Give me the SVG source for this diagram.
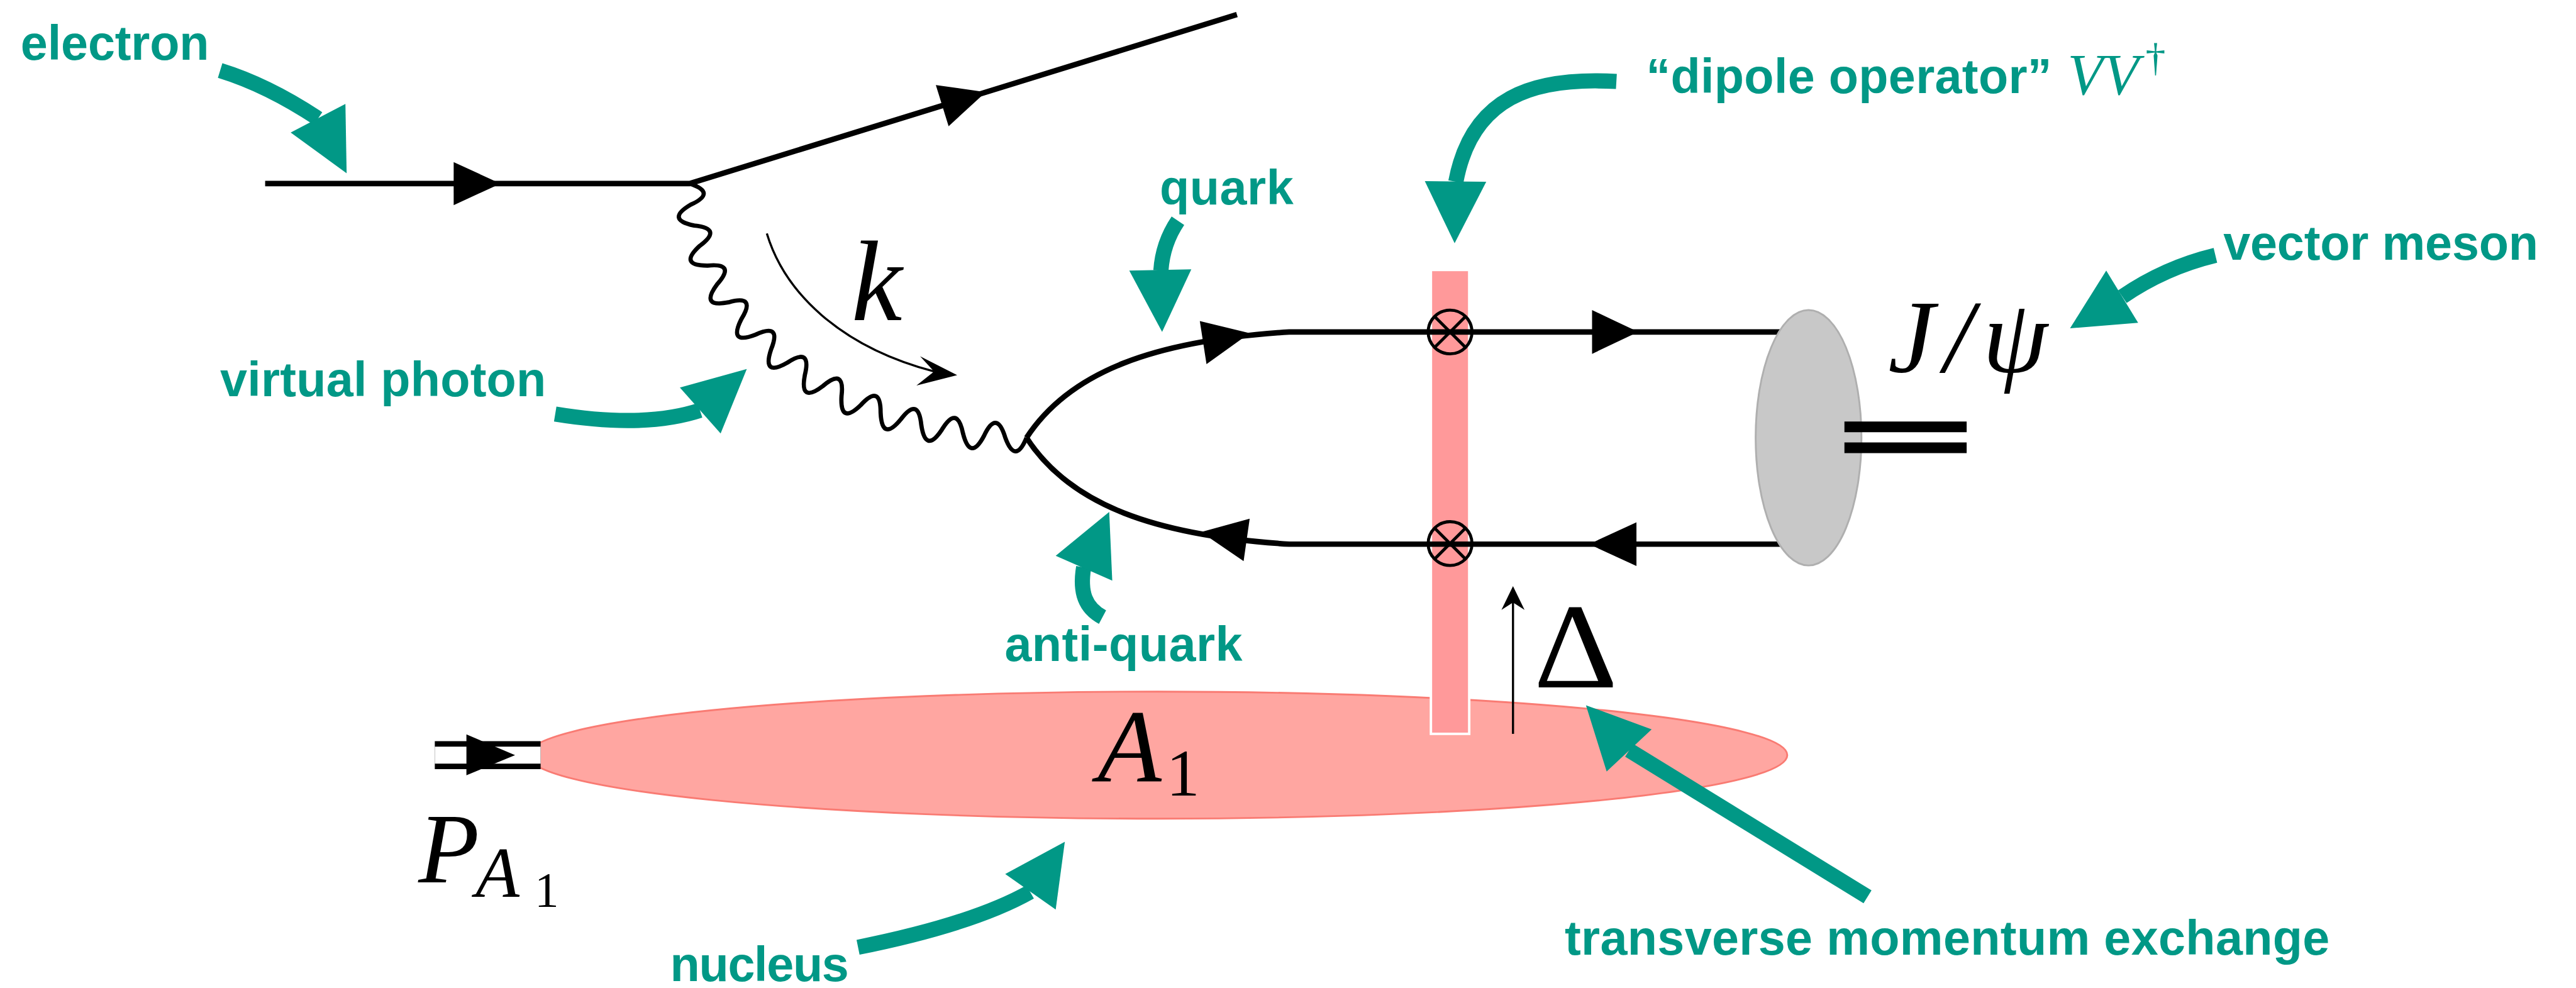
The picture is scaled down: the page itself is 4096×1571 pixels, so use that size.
<svg xmlns="http://www.w3.org/2000/svg" width="4096" height="1571" viewBox="0 0 4096 1571">
<style>
.lbl{font-family:"Liberation Sans",Arial,sans-serif;font-weight:bold;font-size:80px;fill:#019886}
.math{font-family:"Liberation Serif","Times New Roman",serif;font-style:italic;fill:#000}
.up{font-style:normal}
.mt{fill:#019886}
.stem{fill:none;stroke:#019886;stroke-width:25;stroke-linecap:butt}
.head{fill:#019886}
.fer{fill:none;stroke:#000;stroke-width:9}
.arr{fill:#000}
.thin{fill:none;stroke:#000;stroke-width:3.5}
.otimes{fill:none;stroke:#000;stroke-width:5}
</style>
<rect width="4096" height="1571" fill="#fff"/>
<g transform="scale(0.96695 0.96677)">
  <g id="nucleus">
    <ellipse cx="1903.5" cy="1242" rx="1035.5" ry="104.5" fill="#FFA6A1" stroke="#F97B73" stroke-width="3"/>
    <text class="math" x="1805" y="1286" font-size="172">A<tspan class="up" font-size="110" x="1918" y="1309">1</tspan></text>
  </g>
  <g id="beam">
    <line x1="715" y1="1242" x2="889" y2="1242" stroke="#000" stroke-width="46"/>
    <line x1="715" y1="1242" x2="889" y2="1242" stroke="#fff" stroke-width="28"/>
    <polygon class="arr" points="767,1208 767,1275 847,1242"/>
    <text class="math" x="688" y="1451" font-size="164">P<tspan font-size="118" x="782" y="1475">A</tspan><tspan class="up" font-size="80" x="879" y="1491">1</tspan></text>
  </g>
  <g id="dipole">
    <rect x="2353" y="444" width="63" height="763" fill="#FF999A" stroke="#fff" stroke-width="4"/>
  </g>
  <g id="connectors">
    <path class="fer" d="M436,302 L1134,302 L2034,24"/>
    <polygon class="arr" points="746,266.5 746,337.5 823,302"/>
    <polygon class="arr" points="1538.9,139.8 1559.9,207.6 1621,151.6"/>
    <path d="M1134,302 Q1179.4,316.8 1135.9,336.6 Q1093.9,361.2 1141.6,371.0 Q1189.1,375.7 1150.8,404.3 Q1114.9,437.1 1163.6,436.8 Q1211.2,432.0 1179.3,467.6 Q1150.3,506.6 1198.1,497.2 Q1244.2,484.0 1219.2,524.7 Q1197.2,568.0 1242.5,550.4 Q1286.0,530.1 1268.0,574.6 Q1252.7,620.6 1294.8,596.4 Q1334.9,570.1 1323.5,616.8 Q1314.5,664.4 1353.1,635.0 Q1389.6,603.7 1383.8,651.4 Q1380.9,699.8 1415.7,666.0 Q1448.2,630.7 1448.1,678.8 Q1450.3,727.2 1481.2,689.8 Q1510.1,651.3 1515.0,699.1 Q1522.1,747.0 1548.9,706.6 Q1573.8,665.4 1583.5,712.5 Q1595.5,759.5 1618.2,716.7 Q1638.7,673.2 1652.9,719.2 Q1669.3,764.8 1688,720" fill="none" stroke="#000" stroke-width="7" stroke-linejoin="round"/>
    <path class="fer" d="M1688,720 C1760,610 1900,560 2120,546 L2935,546"/>
    <path class="fer" d="M1688,720 C1760,831 1900,881 2120,895 L2935,895"/>
    <polygon class="arr" points="1973,528 1984,599 2055,548"/>
    <polygon class="arr" points="2618,510 2618,582 2694,546"/>
    <polygon class="arr" points="2055,853 2045,923 1975,875"/>
    <polygon class="arr" points="2691,859 2691,931 2613,895"/>
    <path class="thin" d="M1261,384 C1290,480 1380,570 1536,611"/>
    <polygon class="arr" points="1574,617 1513,586 1536,611 1507,634"/>
    <line class="thin" x1="2488" y1="1207" x2="2488" y2="985"/>
    <polygon class="arr" points="2488,964 2507,1003 2488,991 2469,1003"/>
    <text class="math" x="1400" y="527" font-size="188">k</text>
    <text class="math up" x="2522" y="1131" font-size="200" textLength="138" lengthAdjust="spacingAndGlyphs">Δ</text>
  </g>
  <g id="vertex-circles">
    <circle class="otimes" cx="2384.5" cy="546" r="36"/>
    <path class="otimes" d="M2359,520.5 L2410,571.5 M2410,520.5 L2359,571.5"/>
    <circle class="otimes" cx="2384.5" cy="894" r="36"/>
    <path class="otimes" d="M2359,868.5 L2410,919.5 M2410,868.5 L2359,919.5"/>
  </g>
  <g id="meson">
    <ellipse cx="2974" cy="720" rx="87" ry="210" fill="#C8C8C8" stroke="#AFAFAF" stroke-width="3"/>
    <line x1="3033" y1="702" x2="3234" y2="702" stroke="#000" stroke-width="17.5"/>
    <line x1="3033" y1="736.5" x2="3234" y2="736.5" stroke="#000" stroke-width="17.5"/>
    <text class="math" x="3105" y="611" font-size="172" textLength="262">J/ψ</text>
  </g>
  <g id="annotations">
    <text class="lbl" x="34" y="98" textLength="310">electron</text>
    <path class="stem" d="M362,116 Q440,140 523,195"/>
    <polygon class="head" points="568,171 478,218 570,285"/>

    <text class="lbl" x="362" y="652" textLength="536">virtual photon</text>
    <path class="stem" d="M913,681 Q1060,705 1151,675"/>
    <polygon class="head" points="1118,637.5 1185,713 1228,607"/>

    <text class="lbl" x="1907" y="336" textLength="220">quark</text>
    <path class="stem" d="M1937,363 Q1912,400 1909,445"/>
    <polygon class="head" points="1857,445 1959,443 1911,546"/>

    <text class="lbl" x="1652" y="1087" textLength="391">anti-quark</text>
    <path class="stem" d="M1813,1015 C1785,1000 1775,975 1782,933"/>
    <polygon class="head" points="1736,914 1829,955 1824,842"/>

    <text class="lbl" x="2707" y="153" textLength="667">“dipole operator”</text>
    <text class="math mt" x="3400" y="155" font-size="96">VV<tspan class="up" font-size="66" x="3528" y="117">†</tspan></text>
    <path class="stem" d="M2658,134 C2520,126 2420,160 2394,299"/>
    <polygon class="head" points="2343,298 2444,299 2392,400"/>

    <text class="lbl" x="3656" y="427" textLength="518">vector meson</text>
    <path class="stem" d="M3643,420 Q3560,440 3490,488"/>
    <polygon class="head" points="3463.5,445 3516,531 3404,540"/>

    <text class="lbl" x="1102" y="1614" textLength="294">nucleus</text>
    <path class="stem" d="M1411,1558 Q1600,1520 1694,1467"/>
    <polygon class="head" points="1653,1437.6 1736,1496 1751,1384.6"/>

    <text class="lbl" x="2573" y="1570" textLength="1258">transverse momentum exchange</text>
    <path class="stem" d="M3071,1475 Q2850,1340 2679,1234"/>
    <polygon class="head" points="2716,1199.6 2642,1269 2608,1160"/>
  </g>
</g>
</svg>
